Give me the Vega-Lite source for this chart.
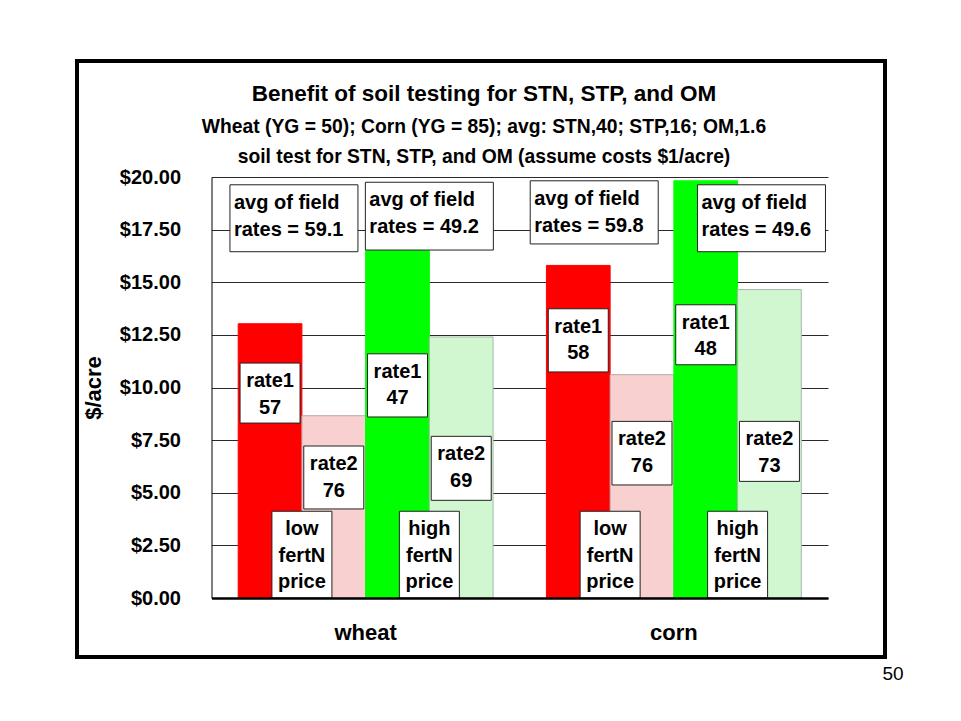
{
  "$schema": "https://vega.github.io/schema/vega-lite/v6.json",
  "width": 808,
  "height": 596,
  "padding": {"left": 77, "top": 61, "right": 0, "bottom": 0},
  "background": "white",
  "config": {
    "view": {"stroke": "black", "strokeWidth": 4},
    "font": "Liberation Sans"
  },
  "title": {
    "text": "Benefit of soil testing for STN, STP, and OM",
    "subtitle": [
      "Wheat (YG = 50); Corn (YG = 85); avg: STN,40; STP,16; OM,1.6",
      "soil test for STN, STP, and OM (assume costs $1/acre)"
    ],
    "anchor": "middle",
    "frame": "group",
    "orient": "top",
    "offset": -106,
    "dx": 3,
    "font": "Liberation Sans",
    "fontSize": 22.5,
    "fontWeight": "bold",
    "color": "black",
    "subtitleFont": "Liberation Sans",
    "subtitleFontSize": 19.3,
    "subtitleFontWeight": "bold",
    "subtitleColor": "black",
    "subtitleLineHeight": 30,
    "subtitlePadding": 12
  },
  "datasets": {
    "bars": [
      {"crop": "wheat", "series": "low rate1", "value": 13.03},
      {"crop": "wheat", "series": "low rate2", "value": 8.66},
      {"crop": "wheat", "series": "high rate1", "value": 16.5},
      {"crop": "wheat", "series": "high rate2", "value": 12.4},
      {"crop": "corn", "series": "low rate1", "value": 15.8},
      {"crop": "corn", "series": "low rate2", "value": 10.61},
      {"crop": "corn", "series": "high rate1", "value": 19.82},
      {"crop": "corn", "series": "high rate2", "value": 14.65}
    ],
    "boxes": [
      {"crop": "wheat", "kind": "avg", "slot": 7, "top": 19.63, "bottom": 16.45, "label": ["avg of field", "rates = 59.1"]},
      {"crop": "wheat", "kind": "avg", "slot": 24, "top": 19.75, "bottom": 16.53, "label": ["avg of field", "rates = 49.2"]},
      {"crop": "wheat", "kind": "small", "slot": 4, "top": 11.16, "bottom": 8.31, "label": ["rate1", "57"]},
      {"crop": "wheat", "kind": "small", "slot": 12, "top": 7.22, "bottom": 4.23, "label": ["rate2", "76"]},
      {"crop": "wheat", "kind": "small", "slot": 8, "top": 4.12, "bottom": 0, "label": ["low", "fertN", "price"]},
      {"crop": "wheat", "kind": "small", "slot": 20, "top": 11.6, "bottom": 8.6, "label": ["rate1", "47"]},
      {"crop": "wheat", "kind": "small", "slot": 28, "top": 7.68, "bottom": 4.64, "label": ["rate2", "69"]},
      {"crop": "wheat", "kind": "small", "slot": 24, "top": 4.12, "bottom": 0, "label": ["high", "fertN", "price"]},
      {"crop": "corn", "kind": "avg", "slot": 6, "top": 19.82, "bottom": 16.82, "label": ["avg of field", "rates = 59.8"]},
      {"crop": "corn", "kind": "avg", "slot": 27, "top": 19.63, "bottom": 16.45, "label": ["avg of field", "rates = 49.6"]},
      {"crop": "corn", "kind": "small", "slot": 4, "top": 13.74, "bottom": 10.74, "label": ["rate1", "58"]},
      {"crop": "corn", "kind": "small", "slot": 12, "top": 8.39, "bottom": 5.37, "label": ["rate2", "76"]},
      {"crop": "corn", "kind": "small", "slot": 8, "top": 4.12, "bottom": 0, "label": ["low", "fertN", "price"]},
      {"crop": "corn", "kind": "small", "slot": 20, "top": 13.93, "bottom": 11.08, "label": ["rate1", "48"]},
      {"crop": "corn", "kind": "small", "slot": 28, "top": 8.39, "bottom": 5.54, "label": ["rate2", "73"]},
      {"crop": "corn", "kind": "small", "slot": 24, "top": 4.12, "bottom": 0, "label": ["high", "fertN", "price"]}
    ]
  },
  "resolve": {"scale": {"xOffset": "independent"}, "axis": {"y": "independent"}},
  "layer": [
    {
      "data": {"name": "bars"},
      "mark": {"type": "bar", "strokeWidth": 1},
      "encoding": {
        "x": {
          "field": "crop",
          "type": "nominal",
          "sort": ["wheat", "corn"],
          "scale": {"domain": ["wheat", "corn"], "range": [134.5, 751], "paddingInner": 0.173, "paddingOuter": 0.0866},
          "axis": {
            "orient": "bottom",
            "offset": -59,
            "zindex": 1,
            "labelAngle": 0,
            "labelFontSize": 22,
            "labelFontWeight": "bold",
            "labelColor": "black",
            "labelPadding": 24,
            "ticks": false,
            "tickSize": 0,
            "domainColor": "black",
            "domainWidth": 2.5,
            "grid": false,
            "title": "50",
            "titleFontSize": 19,
            "titleFontWeight": "normal",
            "titleColor": "black",
            "titleX": 815.5,
            "titleY": 81.7,
            "titleAlign": "center",
            "titleBaseline": "alphabetic",
            "titleAngle": 0
          }
        },
        "xOffset": {
          "field": "series",
          "type": "nominal",
          "sort": ["low rate1", "low rate2", "high rate1", "high rate2"],
          "scale": {"domain": ["low rate1", "low rate2", "high rate1", "high rate2"], "paddingInner": 0, "paddingOuter": 0}
        },
        "y": {
          "field": "value",
          "type": "quantitative",
          "scale": {"domain": [0, 20], "range": [537, 116], "nice": false, "zero": true},
          "axis": {
            "orient": "left",
            "offset": -134.5,
            "values": [0, 2.5, 5, 7.5, 10, 12.5, 15, 17.5, 20],
            "format": "$.2f",
            "labelFontSize": 20,
            "labelFontWeight": "bold",
            "labelColor": "black",
            "labelPadding": 31,
            "ticks": false,
            "tickSize": 0,
            "domainColor": "black",
            "domainWidth": 1,
            "grid": true,
            "gridColor": "#2a2a2a",
            "gridWidth": 1,
            "gridOpacity": 1,
            "title": "$/acre",
            "titleFontSize": 22,
            "titleFontWeight": "bold",
            "titleColor": "black",
            "titlePadding": 14
          }
        },
        "color": {
          "field": "series",
          "type": "nominal",
          "scale": {"domain": ["low rate1", "low rate2", "high rate1", "high rate2"], "range": ["#ff0000", "#f9d0d0", "#00ff00", "#d0f7d0"]},
          "legend": null
        },
        "stroke": {
          "field": "series",
          "type": "nominal",
          "scale": {"domain": ["low rate1", "low rate2", "high rate1", "high rate2"], "range": ["#ff0000", "#b8a8a8", "#00ff00", "#a8b8a8"]},
          "legend": null
        }
      }
    },
    {
      "data": {"name": "boxes"},
      "layer": [
        {
          "transform": [{"filter": "datum.kind == 'avg'"}],
          "mark": {"type": "bar", "width": 128, "fill": "white", "stroke": "#222222", "strokeWidth": 1},
          "encoding": {
            "x": {"field": "crop", "type": "nominal", "sort": ["wheat", "corn"]},
            "xOffset": {
              "field": "slot",
              "type": "ordinal",
              "scale": {"domain": [1,2,3,4,5,6,7,8,9,10,11,12,13,14,15,16,17,18,19,20,21,22,23,24,25,26,27,28,29,30,31], "paddingInner": 0, "paddingOuter": 0.5}
            },
            "y": {
              "field": "top",
              "type": "quantitative",
              "axis": {
                "orient": "right",
                "offset": -57,
                "labels": false,
                "ticks": false,
                "grid": false,
                "domainColor": "black",
                "domainWidth": 1,
                "title": null
              }
            },
            "y2": {"field": "bottom"}
          }
        },
        {
          "transform": [{"filter": "datum.kind == 'small'"}],
          "mark": {"type": "bar", "width": 60, "fill": "white", "stroke": "#222222", "strokeWidth": 1},
          "encoding": {
            "x": {"field": "crop", "type": "nominal", "sort": ["wheat", "corn"]},
            "xOffset": {"field": "slot", "type": "ordinal"},
            "y": {"field": "top", "type": "quantitative", "axis": null},
            "y2": {"field": "bottom"}
          }
        },
        {
          "transform": [{"filter": "datum.kind == 'avg'"}],
          "mark": {"type": "text", "align": "left", "dx": -60, "baseline": "top", "dy": 8, "fontSize": 20, "fontWeight": "bold", "lineHeight": 27, "color": "black", "font": "Liberation Sans"},
          "encoding": {
            "x": {"field": "crop", "type": "nominal", "sort": ["wheat", "corn"]},
            "xOffset": {"field": "slot", "type": "ordinal"},
            "y": {"field": "top", "type": "quantitative", "axis": null},
            "text": {"field": "label"}
          }
        },
        {
          "transform": [{"filter": "datum.kind == 'small'"}],
          "mark": {"type": "text", "align": "center", "baseline": "top", "dy": 8, "fontSize": 20, "fontWeight": "bold", "lineHeight": 26.5, "color": "black", "font": "Liberation Sans"},
          "encoding": {
            "x": {"field": "crop", "type": "nominal", "sort": ["wheat", "corn"]},
            "xOffset": {"field": "slot", "type": "ordinal"},
            "y": {"field": "top", "type": "quantitative", "axis": null},
            "text": {"field": "label"}
          }
        }
      ]
    }
  ]
}
